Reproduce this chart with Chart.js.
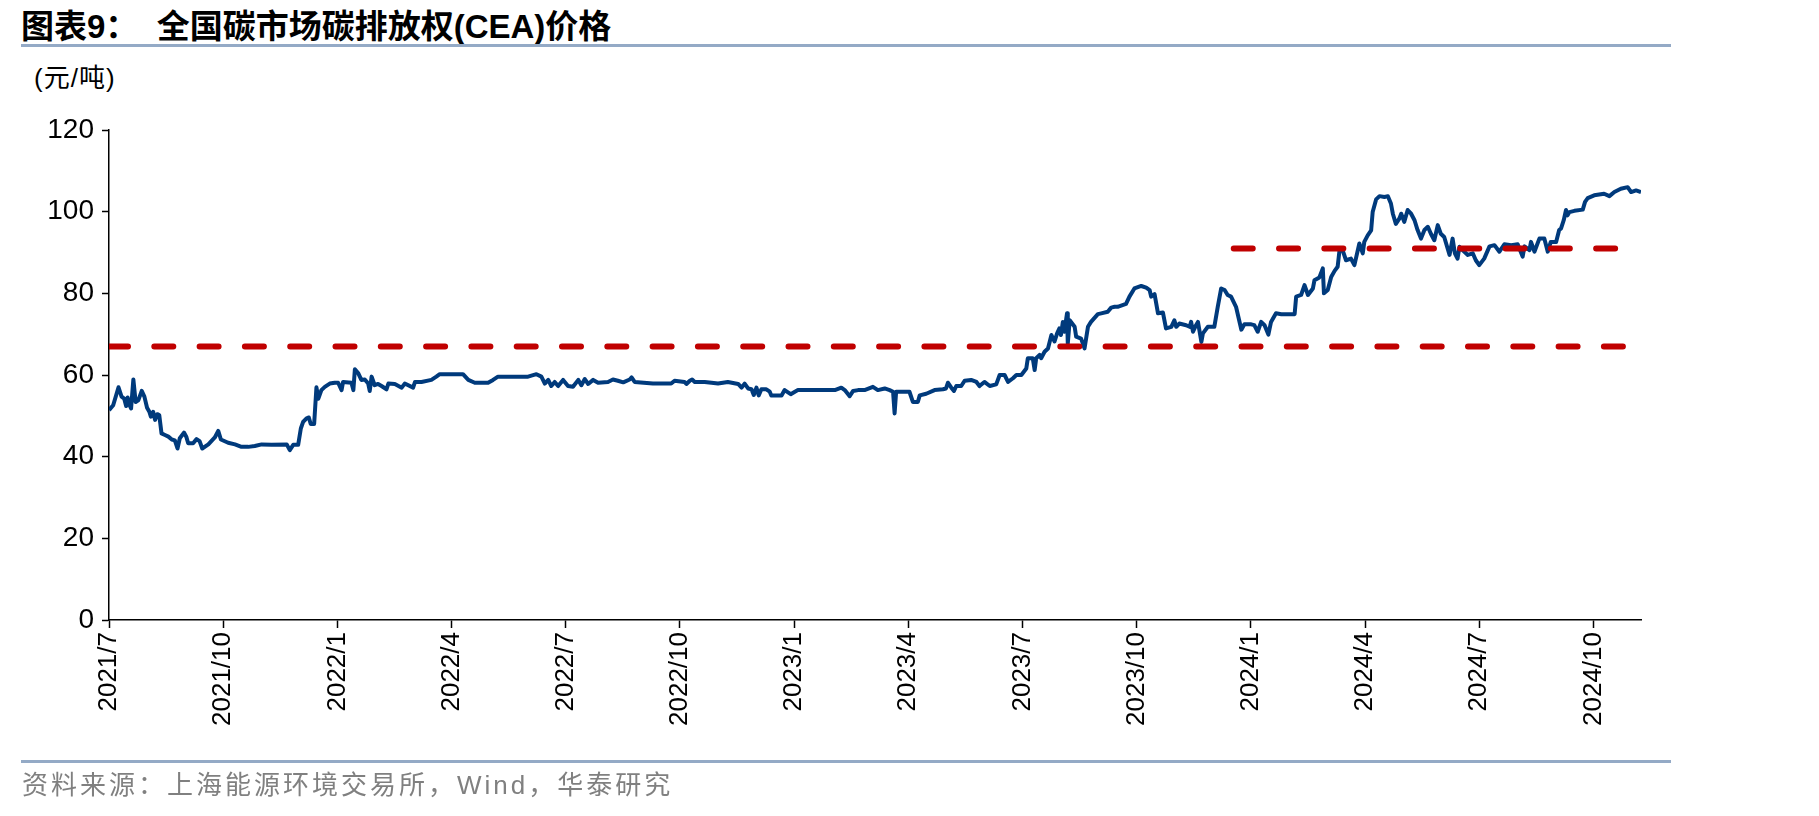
<!DOCTYPE html>
<html>
<head>
<meta charset="utf-8">
<script src="https://cdn.jsdelivr.net/npm/chart.js@4/dist/chart.umd.min.js"></script>
<style>
body{margin:0;background:#fff;}
#page{position:absolute;left:0;top:0;width:1819px;height:816px;background:#fff;}
#box{position:absolute;left:0;top:0;width:1819px;height:816px;}
.title{position:absolute;left:21px;top:0px;font-family:"Liberation Sans","Noto Sans CJK SC",sans-serif;font-weight:bold;font-size:33px;color:#000;white-space:nowrap;}
.rule{position:absolute;left:21px;width:1650px;height:3px;background:#94aac6;}
.unit{position:absolute;left:34px;top:57px;font-family:"Liberation Sans","Noto Sans CJK SC",sans-serif;font-size:26px;letter-spacing:1px;color:#000;white-space:nowrap;}
.source{position:absolute;left:22px;top:764px;font-family:"Liberation Sans","Noto Sans CJK SC",sans-serif;font-size:26px;color:#808080;white-space:nowrap;letter-spacing:3px;}
</style>
</head>
<body>
<div id="page">
  <div class="title">图表9：&nbsp;&nbsp;全国碳市场碳排放权(CEA)价格</div>
  <div class="rule" style="top:44px"></div>
  <div class="unit">(元/吨)</div>
  <div id="box"><canvas id="c"></canvas></div>
  <div class="rule" style="top:760px"></div>
  <div class="source">资料来源：上海能源环境交易所，Wind，华泰研究</div>
</div>
<script>
// months elapsed since 2021/7 on the time axis
const tickMonths = [0,3,6,9,12,15,18,21,24,27,30,33,36,39];
const tickLabels = ['2021/7','2021/10','2022/1','2022/4','2022/7','2022/10','2023/1',
  '2023/4','2023/7','2023/10','2024/1','2024/4','2024/7','2024/10'];
const axisEnd = 40.25;

// CEA closing price, yuan/ton
const monthOffset = [
  0.00,0.11,0.25,0.33,0.40,0.45,0.49,0.54,0.58,0.64,0.70,0.77,0.86,0.93,1.00,1.06,1.10,1.16,1.21,1.27,
  1.32,1.38,1.47,1.56,1.65,1.73,1.80,1.86,1.97,2.03,2.08,2.21,2.30,2.38,2.45,2.61,2.78,2.87,2.94,3.13,
  3.31,3.48,3.66,3.83,4.01,4.27,4.67,4.75,4.84,4.97,5.04,5.10,5.19,5.25,5.30,5.39,5.45,5.50,5.58,5.67,
  5.80,5.93,6.02,6.11,6.15,6.37,6.42,6.46,6.55,6.63,6.72,6.81,6.85,6.90,6.98,7.07,7.16,7.29,7.34,7.51,
  7.69,7.77,7.99,8.04,8.21,8.47,8.60,8.69,9.30,9.44,9.61,9.96,10.09,10.22,11.01,11.23,11.36,11.45,11.54,11.62,
  11.71,11.80,11.93,12.06,12.19,12.33,12.41,12.50,12.59,12.72,12.85,13.11,13.24,13.37,13.51,13.68,13.73,13.81,14.29,14.77,
  14.86,15.12,15.17,15.26,15.32,15.39,15.65,15.83,16.00,16.26,16.53,16.62,16.70,16.79,16.88,16.94,17.01,17.07,17.14,17.27,
  17.36,17.40,17.67,17.75,17.91,18.02,18.10,19.07,19.24,19.33,19.46,19.55,19.68,19.85,20.07,20.20,20.38,20.51,20.60,20.64,
  20.68,21.03,21.12,21.25,21.30,21.47,21.69,21.91,21.99,22.04,22.13,22.20,22.26,22.39,22.48,22.65,22.79,22.87,23.00,23.14,
  23.31,23.40,23.53,23.62,23.75,23.84,23.97,24.10,24.14,24.27,24.32,24.36,24.45,24.49,24.58,24.67,24.76,24.84,24.91,24.97,
  25.01,25.06,25.10,25.17,25.19,25.24,25.37,25.41,25.54,25.63,25.72,25.80,25.98,26.07,26.24,26.33,26.42,26.50,26.72,26.81,
  26.94,27.12,27.25,27.34,27.38,27.47,27.56,27.69,27.77,27.91,27.99,28.04,28.12,28.30,28.39,28.43,28.48,28.56,28.61,28.70,
  28.74,28.87,29.04,29.13,29.22,29.31,29.39,29.48,29.61,29.75,29.83,30.01,30.09,30.18,30.27,30.36,30.46,30.53,30.66,30.80,
  31.15,31.19,31.32,31.41,31.50,31.63,31.67,31.80,31.89,31.92,32.02,32.11,32.20,32.28,32.33,32.41,32.50,32.63,32.72,32.85,
  32.94,32.98,33.07,33.16,33.20,33.29,33.38,33.51,33.60,33.68,33.73,33.81,33.90,33.95,34.03,34.12,34.21,34.30,34.38,34.47,
  34.56,34.65,34.73,34.82,34.91,34.99,35.08,35.22,35.30,35.36,35.43,35.48,35.56,35.70,35.83,35.91,36.00,36.13,36.27,36.40,
  36.53,36.66,36.84,37.01,37.14,37.19,37.32,37.36,37.45,37.58,37.71,37.80,37.88,38.02,38.10,38.15,38.22,38.28,38.32,38.37,
  38.50,38.72,38.78,38.85,39.02,39.28,39.42,39.55,39.72,39.90,39.99,40.12,40.25
];
const ceaPrice = [
  51.4,52.6,57.0,54.7,54.2,52.4,54.5,52.6,51.8,58.9,53.4,53.8,56.1,54.7,52.0,51.0,49.8,51.0,49.0,50.4,
  50.2,45.7,45.3,44.9,44.2,44.0,42.0,44.5,45.9,44.9,43.3,43.3,44.3,43.8,42.0,43.0,44.7,46.3,44.2,43.4,
  43.0,42.4,42.4,42.6,43.0,42.9,43.0,41.6,42.9,42.9,46.9,48.5,49.4,49.6,48.0,48.0,57.0,54.2,56.3,57.1,
  57.9,58.1,58.1,56.3,58.3,58.1,56.3,61.4,60.4,58.8,58.9,57.9,56.1,59.6,57.5,57.8,57.3,56.5,57.9,57.8,
  56.9,57.9,56.9,58.3,58.3,58.8,59.6,60.2,60.2,58.8,58.1,58.1,58.8,59.6,59.6,60.2,59.6,57.9,58.8,57.3,
  58.3,57.3,58.8,57.3,57.1,58.8,57.5,59.0,57.8,58.8,58.1,58.3,58.9,58.6,58.2,58.9,59.4,58.3,57.9,57.9,
  58.6,58.3,57.8,58.6,58.9,58.3,58.3,58.1,57.9,58.3,57.8,56.9,57.9,56.7,56.5,55.1,56.9,55.0,56.5,56.5,
  55.9,55.0,55.0,56.3,55.3,55.9,56.3,56.3,56.9,56.3,54.8,56.1,56.3,56.3,57.1,56.3,56.7,56.3,55.9,50.6,
  55.9,55.9,53.4,53.4,55.0,55.4,56.3,56.5,56.7,58.1,56.9,56.1,57.3,57.3,58.6,58.8,58.3,57.3,58.3,57.3,
  57.7,60.0,60.0,58.3,59.2,60.0,60.0,61.6,64.1,64.1,61.2,64.1,64.9,64.1,65.7,66.5,69.8,68.2,70.2,71.4,
  69.8,73.0,70.6,75.1,67.7,73.4,71.8,69.4,68.9,66.5,71.8,73.0,74.9,75.1,75.5,76.5,76.7,76.7,77.4,79.2,
  81.2,81.8,81.4,80.8,79.2,79.8,75.1,75.3,71.4,71.8,73.4,71.8,72.6,72.2,71.8,73.0,70.6,72.2,73.0,68.1,
  70.2,71.8,71.8,76.7,81.2,80.8,79.6,79.2,76.7,71.1,72.4,72.4,72.2,70.6,73.0,72.2,69.9,73.0,75.1,74.9,
  74.9,79.2,79.6,82.0,79.6,81.2,83.2,83.9,86.1,80.0,80.8,84.0,85.5,86.5,90.6,90.6,88.1,88.5,86.9,92.2,
  89.8,92.6,94.2,95.4,99.9,103.0,103.8,103.6,103.8,102.0,99.5,97.0,98.3,99.5,97.5,100.4,99.5,97.9,95.5,93.4,
  95.5,96.3,94.6,93.0,96.7,94.6,93.8,89.4,93.4,89.8,88.5,91.4,90.6,89.4,89.8,88.1,86.9,88.5,91.5,91.8,
  90.2,92.0,91.8,92.0,89.0,91.5,90.6,92.6,90.2,93.4,93.4,90.2,92.6,92.6,95.5,95.9,97.9,100.4,99.1,99.9,
  100.2,100.5,102.4,103.3,104.0,104.4,103.8,104.8,105.6,106.0,104.8,105.2,104.8
];

// reference levels (red dashed)
const refLow = 67;
const refHigh = 91;
const refHighStart = 29.55;

const xFont = {family: '"Liberation Sans", Arial, sans-serif', size: 26};
const yFont = {family: '"Liberation Sans", Arial, sans-serif', size: 28};

new Chart(document.getElementById('c'), {
  type: 'line',
  data: {
    datasets: [
      {
        data: [{x: refHighStart, y: refHigh}, {x: axisEnd, y: refHigh}],
        borderColor: '#c00000', borderWidth: 6, borderDash: [19, 26.3],
        borderCapStyle: 'round', pointRadius: 0
      },
      {
        data: [{x: 0, y: refLow}, {x: axisEnd, y: refLow}],
        borderColor: '#c00000', borderWidth: 6, borderDash: [19, 26.3],
        borderCapStyle: 'round', pointRadius: 0
      },
      {
        data: monthOffset.map((m, i) => ({x: m, y: ceaPrice[i]})),
        borderColor: '#003a7c', borderWidth: 4, borderJoinStyle: 'round',
        pointRadius: 0, tension: 0
      }
    ]
  },
  options: {
    responsive: true,
    maintainAspectRatio: false,
    animation: false,
    events: [],
    layout: {padding: {left: 0, top: 130, right: 178, bottom: 0}},
    plugins: {legend: {display: false}, tooltip: {enabled: false}},
    scales: {
      x: {
        type: 'linear', min: 0, max: axisEnd,
        afterBuildTicks: s => { s.ticks = tickMonths.map(v => ({value: v})); },
        afterFit: s => { s.height = 196; },
        grid: {drawOnChartArea: false, tickLength: 8, tickColor: '#000', tickWidth: 1.5},
        border: {color: '#000', width: 1.5},
        ticks: {
          font: xFont, color: '#000', padding: 4,
          minRotation: 90, maxRotation: 90, autoSkip: false,
          callback: (v, i) => tickLabels[i]
        }
      },
      y: {
        min: 0, max: 120,
        afterFit: s => { s.width = 109; },
        grid: {drawOnChartArea: false, tickLength: 7, tickColor: '#000', tickWidth: 1.5},
        border: {color: '#000', width: 1.5},
        ticks: {font: yFont, color: '#000', stepSize: 20, padding: 8}
      }
    }
  }
});
</script>
</body>
</html>
